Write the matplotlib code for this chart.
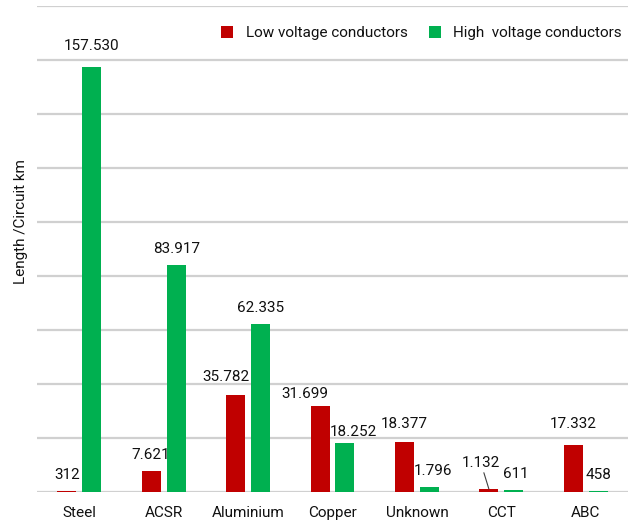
import matplotlib.pyplot as plt
import numpy as np

plt.rcParams['font.family'] = ['Roboto', 'DejaVu Sans']

categories = ['Steel', 'ACSR', 'Aluminium', 'Copper', 'Unknown', 'CCT', 'ABC']
low_voltage = [312, 7621, 35782, 31699, 18377, 1132, 17332]
high_voltage = [157530, 83917, 62335, 18252, 1796, 611, 458]

RED = '#C00000'
GREEN = '#00B050'
INK = '#111111'

# label nudges in pixels (dx, dy) where the default spot would collide
nudge = {
    ('low', 2): (-10, 2),
    ('low', 3): (-15, -4),
    ('high', 3): (8, -5),
    ('high', 0): (0, 5),
    ('low', 4): (0, 2),
    ('low', 6): (0, 5),
    ('high', 4): (4, 0),
    ('high', 5): (2, 0),
}


def fmt(v):
    return f'{v:,}'.replace(',', '.')


fig = plt.figure(figsize=(6.35, 5.3), dpi=100)
ax = fig.add_axes([37 / 635, 38 / 530, 591 / 635, 486 / 530])

x = np.arange(len(categories))
w = 0.225
off = 0.148
bars_low = ax.bar(x - off, low_voltage, w, color=RED, label='Low voltage conductors', zorder=3)
bars_high = ax.bar(x + off, high_voltage, w, color=GREEN, label='High  voltage conductors', zorder=3)

for key, bars, vals in (('low', bars_low, low_voltage), ('high', bars_high, high_voltage)):
    for i, (b, v) in enumerate(zip(bars, vals)):
        cx = b.get_x() + b.get_width() / 2
        if key == 'low' and categories[i] == 'CCT':
            # small bar: label lifted with a leader line
            ax.annotate(fmt(v), (cx, v), xytext=(-8, 26), textcoords='offset pixels',
                        ha='center', va='center', fontsize=11, color=INK,
                        arrowprops=dict(arrowstyle='-', color='#404040', lw=0.8,
                                        shrinkA=0, shrinkB=0))
            continue
        dx, dy = nudge.get((key, i), (0, 0))
        ax.annotate(fmt(v), (cx, v), xytext=(dx, 9 + dy), textcoords='offset pixels',
                    ha='center', va='bottom', fontsize=11, color=INK)

ax.set_xlim(-0.5, len(categories) - 0.5)
ax.set_ylim(0, 180000)
ax.set_yticks(np.arange(0, 180001, 20000))
ax.set_yticklabels([])
ax.yaxis.grid(True, color='#d0d0d0', lw=1.6, zorder=0)
ax.set_axisbelow(True)
ax.tick_params(length=0)
ax.set_xticks(x)
ax.set_xticklabels(categories, fontsize=11, color=INK)
ax.tick_params(axis='x', pad=10)
for s in ax.spines.values():
    s.set_visible(False)

fig.text(21 / 635, (530 - 222) / 530, 'Length /Circuit km', rotation=90,
         ha='center', va='center', fontsize=11, color=INK)

ax.legend(loc='center right', bbox_to_anchor=(622 / 635, (530 - 33) / 530),
          bbox_transform=fig.transFigure, ncol=2, frameon=False,
          fontsize=11, handlelength=0.8, handleheight=0.8, handletextpad=0.8,
          columnspacing=1.4, borderpad=0, borderaxespad=0, labelcolor=INK)

fig.savefig('out.png', dpi=100)
